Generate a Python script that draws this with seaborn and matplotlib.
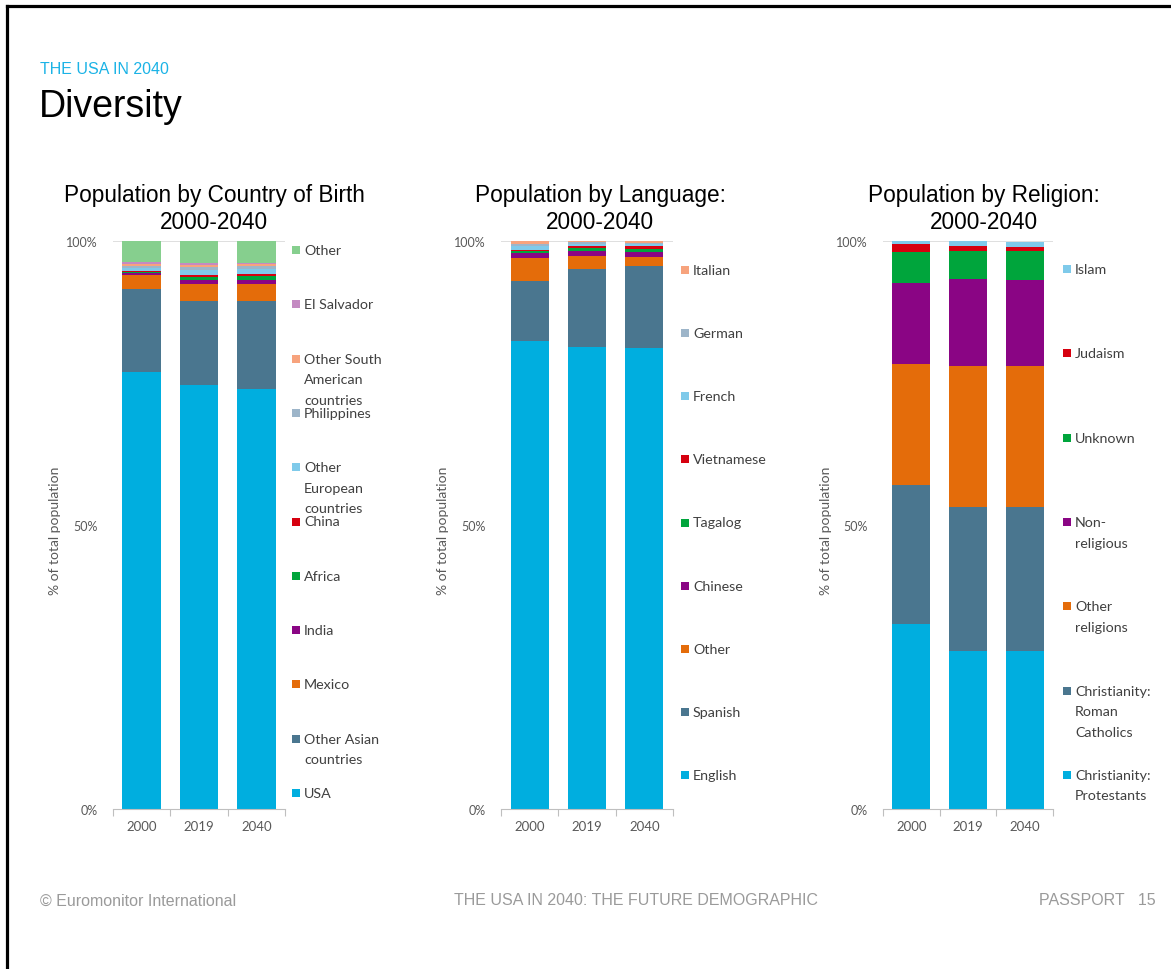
import matplotlib
matplotlib.use("Agg")
import matplotlib.pyplot as plt
from matplotlib.patches import Rectangle
from matplotlib.lines import Line2D
import numpy as np
import pandas as pd
import seaborn as sns

# ---------------------------------------------------------------- data
years = ["2000", "2019", "2040"]

# Population by country of birth, % of total (top of stack first)
birth_labels = ["Other", "El Salvador", "Other South\nAmerican\ncountries", "Philippines",
                "Other\nEuropean\ncountries", "China", "Africa", "India", "Mexico",
                "Other Asian\ncountries", "USA"]
birth_other = [3.7, 3.9, 3.8]
birth_el_salvador = [0.25, 0.3, 0.3]
birth_other_south_american = [0.35, 0.3, 0.3]
birth_philippines = [0.4, 0.5, 0.5]
birth_other_european = [0.5, 0.9, 0.9]
birth_china = [0.25, 0.4, 0.4]
birth_africa = [0.2, 0.6, 0.7]
birth_india = [0.2, 0.65, 0.7]
birth_mexico = [2.5, 3.0, 3.0]
birth_other_asian = [14.6, 14.8, 15.5]
birth_usa = [77.0, 74.6, 73.9]

# Population by language, % of total (top of stack first)
language_labels = ["Italian", "German", "French", "Vietnamese", "Tagalog", "Chinese",
                   "Other", "Spanish", "English"]
lang_italian = [0.45, 0.35, 0.3]
lang_german = [0.45, 0.3, 0.2]
lang_french = [0.6, 0.3, 0.25]
lang_vietnamese = [0.25, 0.4, 0.6]
lang_tagalog = [0.45, 0.5, 0.5]
lang_chinese = [0.8, 0.9, 0.9]
lang_other = [4.0, 2.25, 1.6]
lang_spanish = [10.6, 13.8, 14.4]
lang_english = [82.4, 81.3, 81.2]

# Population by religion, % of total (top of stack first)
religion_labels = ["Islam", "Judaism", "Unknown", "Non-\nreligious", "Other\nreligions",
                   "Christianity:\nRoman\nCatholics", "Christianity:\nProtestants"]
rel_islam = [0.6, 0.9, 0.9]
rel_judaism = [1.4, 0.8, 0.8]
rel_unknown = [5.4, 5.0, 5.1]
rel_non_religious = [14.3, 15.3, 15.1]
rel_other = [21.3, 24.8, 24.8]
rel_catholic = [24.5, 25.4, 25.4]
rel_protestant = [32.5, 27.8, 27.8]

# ---------------------------------------------------------------- colours
C_CYAN = "#00AEDF"
C_SLATE = "#4A768F"
C_ORANGE = "#E46C0A"
C_PURPLE = "#8A0584"
C_GREEN = "#00A53C"
C_RED = "#D6000F"
C_LIGHTBLUE = "#7FCAEA"
C_GREYBLUE = "#9DB5C9"
C_SALMON = "#F7A37D"
C_PINK = "#C48AC2"
C_LIGHTGREEN = "#86CF8E"

birth_colors = [C_LIGHTGREEN, C_PINK, C_SALMON, C_GREYBLUE, C_LIGHTBLUE, C_RED,
                C_GREEN, C_PURPLE, C_ORANGE, C_SLATE, C_CYAN]
language_colors = [C_SALMON, C_GREYBLUE, C_LIGHTBLUE, C_RED, C_GREEN, C_PURPLE,
                   C_ORANGE, C_SLATE, C_CYAN]
religion_colors = [C_LIGHTBLUE, C_RED, C_GREEN, C_PURPLE, C_ORANGE, C_SLATE, C_CYAN]

birth_series = [birth_other, birth_el_salvador, birth_other_south_american, birth_philippines,
                birth_other_european, birth_china, birth_africa, birth_india, birth_mexico,
                birth_other_asian, birth_usa]
language_series = [lang_italian, lang_german, lang_french, lang_vietnamese, lang_tagalog,
                   lang_chinese, lang_other, lang_spanish, lang_english]
religion_series = [rel_islam, rel_judaism, rel_unknown, rel_non_religious, rel_other,
                   rel_catholic, rel_protestant]


def long_table(labels, series):
    rows = []
    for lab, vals in zip(labels, series):
        for yr, v in zip(years, vals):
            rows.append({"year": yr, "group": lab, "share": v})
    return pd.DataFrame(rows)


# ---------------------------------------------------------------- figure
W, H = 1171, 970
sns.set_theme(style="white")
plt.rcParams["font.family"] = ["Liberation Sans", "DejaVu Sans"]
fig = plt.figure(figsize=(W / 100, H / 100), dpi=100)
fig.patch.set_facecolor("white")


def fx(x):
    return x / W


def fy(y):
    return 1 - y / H


def add_axes_px(left, top, right, bottom):
    return fig.add_axes([fx(left), fy(bottom), (right - left) / W, (bottom - top) / H])


TICK_GREY = "#595959"
AXIS_GREY = "#BFBFBF"
SMALL_FONT = "Lato"


def stacked_panel(box, labels, series, colors, shrink, title_lines, title_x, ylab_x,
                  legend_x, legend_top, legend_bottom):
    ax = add_axes_px(*box)
    df = long_table(labels, series)
    sns.histplot(data=df, x="year", hue="group", weights="share", multiple="stack",
                 discrete=True, shrink=shrink, hue_order=labels,
                 palette=dict(zip(labels, colors)), alpha=1, linewidth=0,
                 legend=False, ax=ax)
    ax.set_xlim(-0.5, 2.5)
    ax.set_ylim(0, 100)
    ax.set_xlabel("")
    ax.set_ylabel("")
    ax.set_yticks([0, 50, 100])
    ax.set_yticklabels(["0%", "50%", "100%"], fontsize=9, color=TICK_GREY,
                       family=SMALL_FONT)
    ax.set_xticks([0, 1, 2])
    ax.set_xticklabels(years, fontsize=9.5, color=TICK_GREY, family=SMALL_FONT)
    ax.set_xticks([-0.5, 0.5, 1.5, 2.5], minor=True)
    ax.tick_params(axis="y", length=0, pad=11)
    ax.tick_params(axis="x", which="major", length=0, pad=8)
    ax.tick_params(axis="x", which="minor", length=5, width=0.8, color=AXIS_GREY,
                   direction="out", bottom=True)
    for side in ("left", "top", "right"):
        ax.spines[side].set_visible(False)
    ax.spines["bottom"].set_color(AXIS_GREY)
    ax.spines["bottom"].set_linewidth(0.8)
    ax.axhline(100, color="#D9D9D9", lw=1.2, zorder=0.5)
    ax.set_facecolor("none")

    # panel title
    for i, line in enumerate(title_lines):
        fig.text(fx(title_x), fy(196 + 27 * i), line, ha="center", va="center",
                 fontsize=16.3, color="#000000")

    # axis caption
    fig.text(fx(ylab_x), fy(531), "% of total population", rotation=90,
             ha="center", va="center", fontsize=10, color=TICK_GREY, family=SMALL_FONT)

    # legend, one entry per series, evenly spaced
    ys = np.linspace(legend_top, legend_bottom, len(labels))
    for lab, col, y in zip(labels, colors, ys):
        fig.patches.append(Rectangle((fx(legend_x), fy(y + 4)), 8 / W, 8 / H,
                                     transform=fig.transFigure, facecolor=col,
                                     edgecolor="none"))
        for k, part in enumerate(lab.split("\n")):
            fig.text(fx(legend_x + 12), fy(y + 20.5 * k), part, ha="left", va="center",
                     fontsize=10.3, color="#404040", family=SMALL_FONT)
    return ax


stacked_panel((113, 242, 285, 810), birth_labels, birth_series, birth_colors, 0.68,
              ["Population by Country of Birth", "2000-2040"], 214, 55, 292, 251, 794)
stacked_panel((501, 242, 673, 810), language_labels, language_series, language_colors, 0.66,
              ["Population by Language:", "2000-2040"], 600, 443, 681, 271, 776)
stacked_panel((883, 242, 1053, 810), religion_labels, religion_series, religion_colors, 0.67,
              ["Population by Religion:", "2000-2040"], 984, 826, 1063, 270, 776)

# ---------------------------------------------------------------- page furniture
fig.text(fx(40), fy(69), "THE USA IN 2040", ha="left", va="center", fontsize=11.5,
         color="#1BB3E6")
fig.text(fx(39), fy(107), "Diversity", ha="left", va="center", fontsize=27,
         color="#000000")

FOOT_GREY = "#9A9A9A"
fig.text(fx(40), fy(901), "\u00a9 Euromonitor International", ha="left", va="center",
         fontsize=11.5, color=FOOT_GREY)
fig.text(fx(636), fy(901), "THE USA IN 2040: THE FUTURE DEMOGRAPHIC", ha="center",
         va="center", fontsize=11.5, color=FOOT_GREY)
fig.text(fx(1156), fy(901), "PASSPORT   15", ha="right", va="center", fontsize=11.5,
         color=FOOT_GREY)

# frame lines along the top and left edges
fig.add_artist(Line2D([fx(6.5), fx(6.5)], [0, fy(6.5)], transform=fig.transFigure,
                      color="black", lw=2.3, solid_capstyle="projecting"))
fig.add_artist(Line2D([fx(6.5), 1], [fy(6.5), fy(6.5)], transform=fig.transFigure,
                      color="black", lw=2.3, solid_capstyle="projecting"))

fig.savefig("out.png", dpi=100, facecolor="white")
